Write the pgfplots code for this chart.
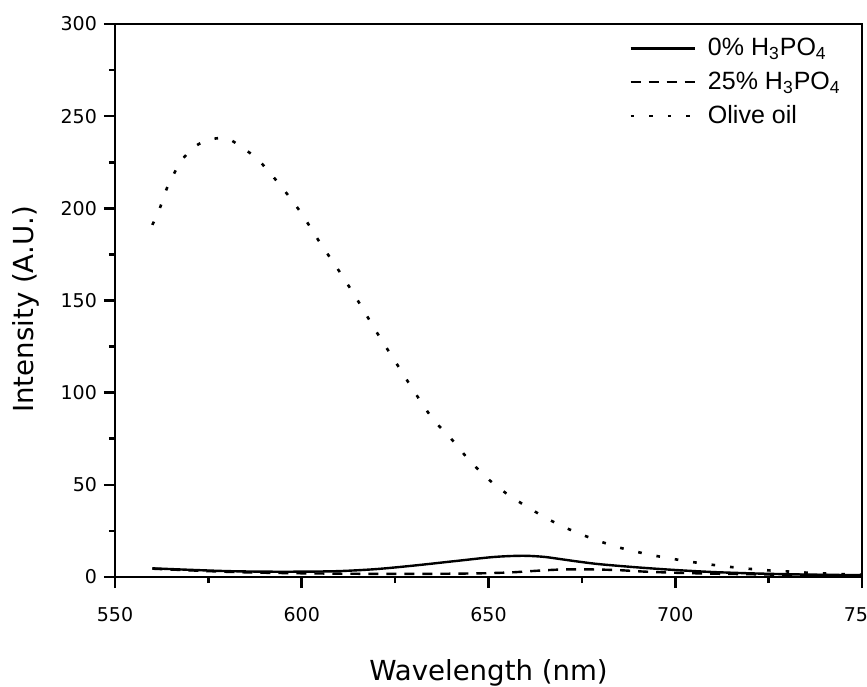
\documentclass[border=0pt]{standalone}
\usepackage{fontspec}
\setmainfont{Liberation Sans}
\newfontfamily\axfont{DejaVu Sans}
\newfontfamily\legfont{Liberation Sans}
\usepackage{pgfplots}
\pgfplotsset{compat=1.18}
\begin{document}
\begin{tikzpicture}
\useasboundingbox (-57.5pt,-54.5pt) rectangle (376pt,288.5pt);
\begin{axis}[
  scale only axis, width=373.5pt, height=276.5pt,
  xmin=550, xmax=750, ymin=0, ymax=300,
  xtick={550,600,...,750}, ytick={0,50,...,300},
  minor x tick num=1, minor y tick num=1,
  axis line style={line width=1.3pt},
  every tick/.style={line width=1.3pt, black},
  major tick length=5.5pt, minor tick length=3pt,
  tick align=outside,
  xtick pos=bottom, ytick pos=left,
  /pgf/number format/assume math mode=true,
  ticklabel style={font=\axfont\fontsize{9.5}{11}\selectfont},
  xticklabel style={yshift=-6pt},
  xlabel={Wavelength (nm)}, ylabel={Intensity (A.U.)},
  label style={font=\axfont\fontsize{13.8}{16}\selectfont},
  xlabel style={yshift=-12pt},
  ylabel style={yshift=4pt, xshift=-4.5pt},
  legend style={draw=none, fill=none, at={(1,1)}, anchor=north east,
    xshift=-5.5pt, yshift=-3pt, font=\legfont\fontsize{12.5}{15}\selectfont,
    row sep=2.5pt, cells={anchor=west},
    /tikz/every odd column/.append style={column sep=4pt}},
  legend image code/.code={\draw[#1] (0pt,0pt) -- (32pt,0pt);},
]
\addplot[black, line width=1.2pt, smooth] coordinates {
(560,4.7) (570,3.9) (580,3.2) (590,2.9) (600,2.9) (610,3.2) (620,4.3)
(630,6.2) (640,8.4) (650,10.6) (655,11.3) (660,11.5) (665,10.9) (670,9.5)
(675,8.1) (680,6.9) (690,5.2) (700,3.8) (710,2.7) (720,2.0) (730,1.5)
(740,1.2) (750,1.0)};
\addlegendentry{0\% H\textsubscript{3}PO\textsubscript{4}}
\addplot[black, line width=1.2pt, smooth, dash pattern=on 5pt off 4pt] coordinates {
(560,4.5) (570,3.6) (580,2.8) (590,2.3) (600,2.0) (610,1.8) (620,1.7)
(630,1.7) (640,1.8) (648,2.0) (656,2.5) (663,3.4) (670,4.1) (678,4.1)
(685,3.7) (692,2.9) (700,2.3) (710,1.8) (720,1.5) (730,1.2) (740,1.0) (750,0.9)};
\addlegendentry{25\% H\textsubscript{3}PO\textsubscript{4}}
\addplot[black, line width=1.3pt, smooth, dash pattern=on 1.8pt off 7.5pt] coordinates {
(560,191) (562,200) (563.5,209) (565.6,218) (567.8,226) (571.7,234)
(576,237.5) (580,238) (584,233) (588,227) (592,218) (596,208) (600,197)
(605,181) (610,166) (615,150) (620,133) (625,117) (630,101) (635,86)
(640,75) (645,63) (650,53) (655,45) (660,38.5) (665,32.5) (670,27.3)
(675,23) (680,19.2) (685,16) (690,13.5) (695,11.4) (700,9.6) (705,8)
(710,6.6) (715,5.4) (720,4.4) (725,3.6) (730,3) (735,2.4) (740,1.9)
(745,1.5) (750,1.3)};
\addlegendentry{Olive oil}
\end{axis}
\end{tikzpicture}
\end{document}
